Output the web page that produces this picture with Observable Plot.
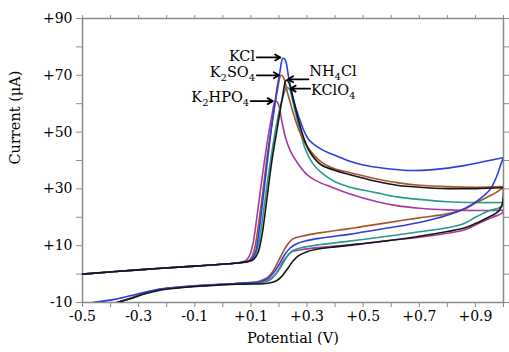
<!DOCTYPE html>
<html><head><meta charset="utf-8">
<script src="https://cdn.jsdelivr.net/npm/d3@7"></script>
<script src="https://cdn.jsdelivr.net/npm/@observablehq/plot@0.6"></script>
<style>
body{margin:0;background:#fff}
#chart{width:509px;height:352px}
</style>
</head><body><div id="chart"></div>
<script>
// ---- data ----
const seriesNames = ["KCl", "K2SO4", "NH4Cl", "KClO4", "K2HPO4"];
const seriesColors = ["#2b3fdc", "#a8532c", "#151515", "#2a9a8c", "#a23d9e"];

const kclForward = [[-0.5,0],[-0.3,1.5],[-0.1,2.8],[0.05,3.9],[0.09,4.5],[0.105,5.5],[0.117,8],[0.13,16],[0.145,28],[0.165,45],[0.185,60],[0.203,71],[0.214,76],[0.222,75.5],[0.235,69],[0.25,62],[0.27,55.5],[0.305,47.5],[0.35,44],[0.39,42.2],[0.45,39.8],[0.5,38.4],[0.58,37.2],[0.66,36.5],[0.75,36.8],[0.86,38.2],[0.94,39.8],[1.0,41]];
const kclReverse = [[1.0,41],[0.99,38.5],[0.98,35.5],[0.965,32],[0.95,29.5],[0.9,25.3],[0.86,23],[0.8,20.7],[0.7,18.2],[0.6,16.4],[0.5,14.8],[0.45,14],[0.35,12.7],[0.3,11.8],[0.26,10.5],[0.24,9.2],[0.22,6.8],[0.2,3.3],[0.18,0.3],[0.16,-1.6],[0.13,-2.7],[0.1,-3.0],[0.05,-3.3],[-0.05,-3.9],[-0.15,-4.6],[-0.22,-5.3],[-0.3,-6.9],[-0.38,-8.8],[-0.465,-10]];

const k2so4Forward = [[-0.5,0],[-0.3,1.5],[-0.1,2.8],[0.05,3.9],[0.09,4.5],[0.1,5.5],[0.112,8.5],[0.125,16],[0.14,27],[0.16,43],[0.18,56],[0.195,65],[0.207,70],[0.215,69.5],[0.23,64],[0.25,57],[0.27,51],[0.3,45],[0.35,39.5],[0.4,37],[0.45,35.8],[0.55,33.5],[0.62,32.2],[0.7,31.3],[0.8,30.8],[0.9,30.6],[1.0,30.8]];
const k2so4Reverse = [[1.0,30.8],[0.99,29.8],[0.97,28.5],[0.95,27.5],[0.9,25],[0.86,22.8],[0.8,21.2],[0.7,19.8],[0.6,18.3],[0.5,16.8],[0.45,16],[0.35,14.6],[0.28,13.3],[0.25,12.4],[0.235,11],[0.22,8.8],[0.2,5],[0.18,1.2],[0.16,-1.2],[0.13,-2.5],[0.1,-3.0],[0.05,-3.3],[-0.05,-3.9],[-0.15,-4.6],[-0.22,-5.3],[-0.28,-6.8],[-0.33,-8.6],[-0.377,-10]];

const nh4clForward = [[-0.5,0],[-0.3,1.5],[-0.1,2.8],[0.05,3.9],[0.09,4.4],[0.11,5.2],[0.125,7.5],[0.14,14],[0.155,25],[0.175,40],[0.195,52],[0.212,62],[0.226,68.3],[0.235,67.5],[0.25,62],[0.27,54],[0.29,47.5],[0.31,43],[0.35,38.5],[0.4,36.5],[0.45,35.1],[0.55,32.6],[0.62,31.3],[0.7,30.6],[0.8,30.1],[0.9,30.1],[1.0,30.4]];
const nh4clReverse = [[1.0,30.4],[0.999,27],[0.995,24.5],[0.985,22.5],[0.97,21.2],[0.95,20.2],[0.9,17.8],[0.86,16.2],[0.8,15],[0.7,13.3],[0.6,11.9],[0.5,10.7],[0.45,10.1],[0.4,9.6],[0.35,9],[0.3,7.9],[0.27,6.5],[0.25,4.6],[0.23,1.8],[0.21,-0.8],[0.19,-2.4],[0.16,-3.2],[0.1,-3.5],[0.05,-3.6],[-0.05,-4.1],[-0.15,-4.8],[-0.22,-5.6],[-0.28,-7],[-0.33,-8.7],[-0.377,-10]];

const kclo4Forward = [[-0.5,0],[-0.3,1.5],[-0.1,2.8],[0.05,3.9],[0.09,4.4],[0.105,5.2],[0.12,8],[0.135,15],[0.15,26],[0.17,40],[0.19,52],[0.21,61],[0.228,65.7],[0.238,65],[0.25,60.5],[0.27,52.5],[0.294,44],[0.32,39],[0.35,35.8],[0.4,32.5],[0.45,30.7],[0.55,28.6],[0.62,27.2],[0.7,26.3],[0.8,25.5],[0.9,25.2],[1.0,25.2]];
const kclo4Reverse = [[1.0,25.2],[0.995,24],[0.98,23.2],[0.95,22.3],[0.9,20],[0.86,17.8],[0.8,16.3],[0.7,14.9],[0.6,13.5],[0.5,12.2],[0.45,11.6],[0.35,10.4],[0.28,9.3],[0.25,8.3],[0.235,7],[0.22,4.8],[0.2,1.5],[0.18,-0.9],[0.16,-2.2],[0.13,-3.0],[0.1,-3.3],[0.05,-3.5],[-0.05,-4.0],[-0.15,-4.7],[-0.22,-5.4],[-0.28,-6.9],[-0.33,-8.6],[-0.377,-10]];

const k2hpo4Forward = [[-0.5,0],[-0.3,1.5],[-0.1,2.8],[0.04,3.8],[0.07,4.3],[0.085,5],[0.097,7],[0.108,11],[0.12,19],[0.14,34],[0.16,47.5],[0.175,56],[0.187,61],[0.197,60],[0.21,54],[0.223,48.2],[0.24,43.5],[0.27,38.6],[0.3,35],[0.33,33],[0.39,30.5],[0.45,28.3],[0.55,25.5],[0.62,24.1],[0.7,23.2],[0.8,22.6],[0.9,22.4],[1.0,22.5]];
const k2hpo4Reverse = [[1.0,22.5],[0.995,21.5],[0.98,20.7],[0.95,19.6],[0.9,17.3],[0.86,15.5],[0.8,14.4],[0.7,13],[0.6,11.9],[0.5,10.8],[0.45,10.3],[0.35,9.4],[0.28,8.6],[0.25,8],[0.235,7],[0.215,4.5],[0.195,1],[0.175,-1.5],[0.155,-2.6],[0.12,-3.0],[0.1,-3.1],[0.05,-3.3],[-0.05,-3.8],[-0.15,-4.5],[-0.22,-5.2],[-0.28,-6.7],[-0.33,-8.5],[-0.377,-10]];

const xTickValues = [-0.5, -0.3, -0.1, 0.1, 0.3, 0.5, 0.7, 0.9];
const xTickLabels = ["-0.5", "-0.3", "-0.1", "+0.1", "+0.3", "+0.5", "+0.7", "+0.9"];
const yTickValues = [-10, 10, 30, 50, 70, 90];
const yTickLabels = ["-10", "+10", "+30", "+50", "+70", "+90"];
const xMinorTicks = d3.range(-5, 11).map(i => i / 10);
const yMinorTicks = d3.range(-10, 91, 10);

const annotNames = ["KCl", "K2SO4", "NH4Cl", "KClO4", "K2HPO4"];
const annotAnchor = ["end", "end", "start", "start", "end"];
const annotTextX = [0.115, 0.115, 0.308, 0.314, 0.094];
const annotTextY = [76.6, 71.2, 71.3, 64.8, 62.2];
const arrowX1 = [0.121, 0.121, 0.305, 0.311, 0.099];
const arrowX2 = [0.205, 0.2, 0.232, 0.241, 0.178];
const arrowY = [76.3, 70.0, 68.6, 65.3, 60.9];

// ---- build tables ----
const curves = {
  "KCl": [kclForward, kclReverse],
  "K2SO4": [k2so4Forward, k2so4Reverse],
  "NH4Cl": [nh4clForward, nh4clReverse],
  "KClO4": [kclo4Forward, kclo4Reverse],
  "K2HPO4": [k2hpo4Forward, k2hpo4Reverse]
};
function rowsFor(name) {
  const [f, r] = curves[name];
  return [
    ...f.map(([x, y]) => ({x, y, series: name, seg: name + "-f"})),
    ...r.map(([x, y]) => ({x, y, series: name, seg: name + "-r"}))
  ];
}
const annots = annotNames.map((n, i) => ({
  name: n, anchor: annotAnchor[i], tx: annotTextX[i], ty: annotTextY[i],
  x1: arrowX1[i], x2: arrowX2[i], y: arrowY[i]
}));

const fmtX = d => { const i = xTickValues.findIndex(v => Math.abs(v - d) < 1e-9); return i < 0 ? "" : xTickLabels[i]; };
const fmtY = d => { const i = yTickValues.findIndex(v => Math.abs(v - d) < 1e-9); return i < 0 ? "" : yTickLabels[i]; };
const axisGray = "#8a8a8a";
const serif = "DejaVu Serif";
const drawOrder = ["K2HPO4", "KClO4", "K2SO4", "KCl", "NH4Cl"];

const plot = Plot.plot({
  width: 509, height: 352,
  marginLeft: 82, marginRight: 6, marginTop: 18, marginBottom: 50,
  style: {fontFamily: serif, fontSize: "14px", background: "#fff", color: "#000"},
  x: {domain: [-0.5, 1.0]},
  y: {domain: [-10, 90]},
  color: {domain: seriesNames, range: seriesColors},
  marks: [
    Plot.frame({stroke: axisGray, strokeWidth: 1.5}),
    Plot.axisX({anchor: "bottom", ticks: xMinorTicks, tickFormat: fmtX, tickSize: 5, tickPadding: 4, stroke: axisGray, fill: "#000", label: null}),
    Plot.axisX({anchor: "top", ticks: xMinorTicks, tickFormat: () => "", tickSize: 4, stroke: axisGray, label: null}),
    Plot.axisY({anchor: "left", ticks: yMinorTicks, tickFormat: fmtY, tickSize: 6, tickPadding: 4, stroke: axisGray, fill: "#000", label: null}),
    Plot.axisY({anchor: "right", ticks: yMinorTicks, tickFormat: () => "", tickSize: 5, stroke: axisGray, label: null}),
    ...drawOrder.map(n => Plot.line(rowsFor(n), {x: "x", y: "y", z: "seg", stroke: "series", strokeWidth: 1.6, curve: "catmull-rom", clip: true})),
    Plot.arrow(annots, {x1: "x1", y1: "y", x2: "x2", y2: "y", stroke: "#000", strokeWidth: 1.8, headLength: 5}),
    Plot.text(annots, {filter: d => d.anchor === "end", x: "tx", y: "ty", text: "name", textAnchor: "end", fontSize: 14.5}),
    Plot.text(annots, {filter: d => d.anchor === "start", x: "tx", y: "ty", text: "name", textAnchor: "start", fontSize: 14.5}),
    Plot.text(["Potential (V)"], {frameAnchor: "bottom", dy: 40, fontSize: 14.5}),
    Plot.text(["Current (μA)"], {frameAnchor: "left", dx: -67, dy: 4, rotate: -90, fontSize: 14.5})
  ]
});

// subscripts for chemical formulas
const ns = "http://www.w3.org/2000/svg";
plot.querySelectorAll("text").forEach(t => {
  const s = t.textContent;
  if (!annotNames.includes(s) || !/\d/.test(s)) return;
  while (t.firstChild) t.removeChild(t.firstChild);
  let prevDigit = false;
  for (const part of s.match(/\d+|\D+/g)) {
    const ts = document.createElementNS(ns, "tspan");
    ts.textContent = part;
    const isDigit = /^\d+$/.test(part);
    if (isDigit) { ts.setAttribute("font-size", "10"); ts.setAttribute("dy", "4"); }
    else if (prevDigit) { ts.setAttribute("dy", "-4"); }
    prevDigit = isDigit;
    t.appendChild(ts);
  }
});

document.getElementById("chart").append(plot);
</script></body></html>
